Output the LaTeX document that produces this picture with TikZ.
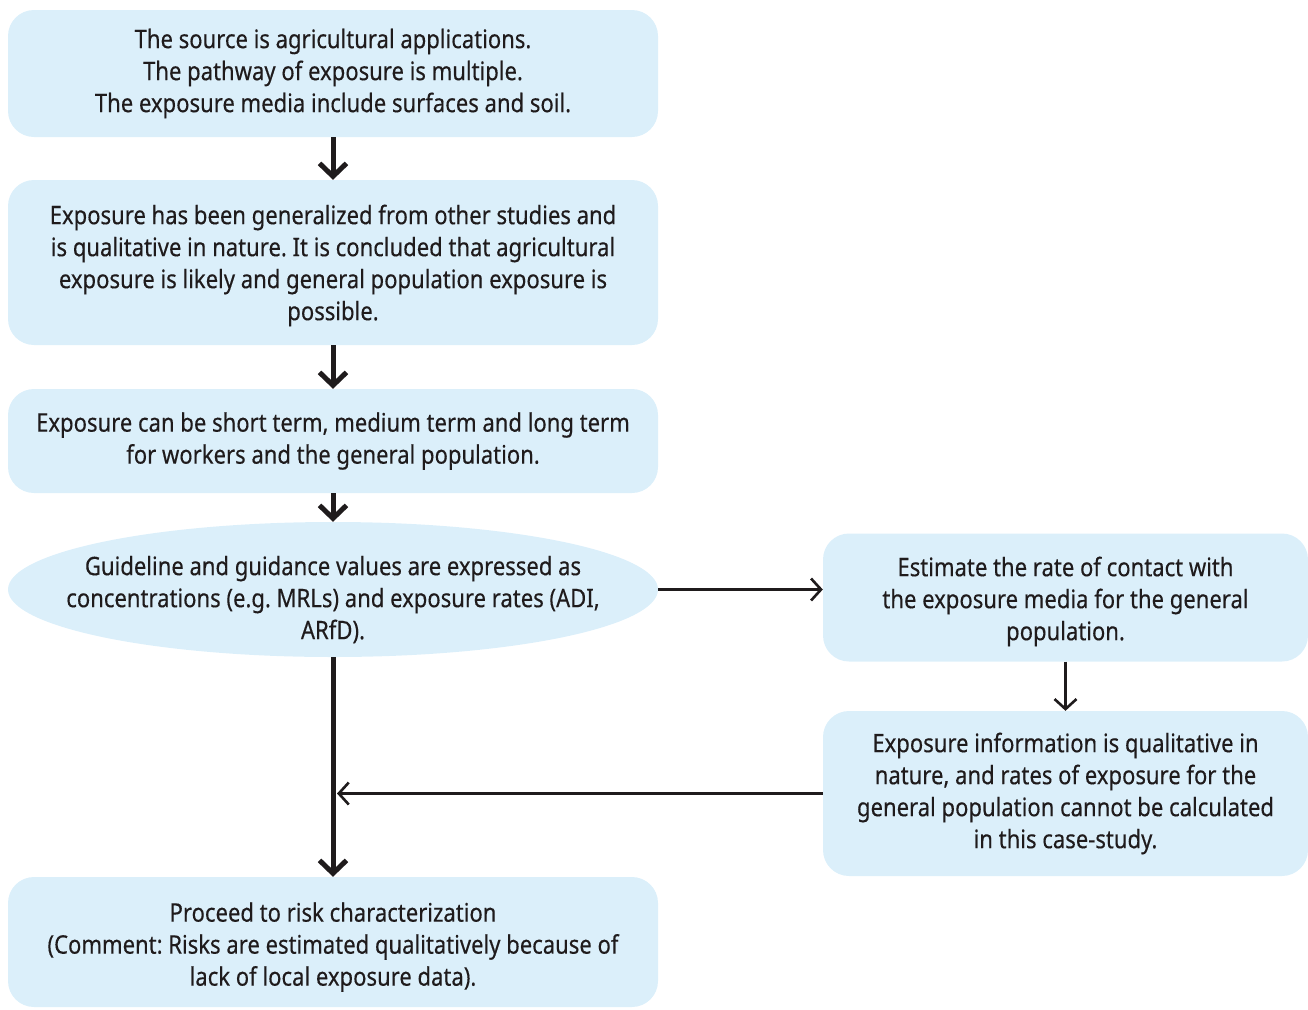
\documentclass[tikz,border=0pt]{standalone}
\usepackage{fontspec}
\setmainfont[FakeStretch=0.865,FakeBold=0.3]{Noto Sans}
\usetikzlibrary{arrows.meta,shapes.geometric}
\definecolor{boxfill}{HTML}{DBEFFA}
\definecolor{ink}{HTML}{1F1B1C}
\begin{document}
\frenchspacing
\begin{tikzpicture}[x=1pt,y=-1pt,
  font=\fontsize{25.5}{32}\selectfont,
  stepbox/.style={fill=boxfill,draw=none,rounded corners=26pt,align=center,
    text=ink,inner sep=0pt},
  wide/.style={stepbox,minimum width=650pt},
  narrow/.style={stepbox,minimum width=485pt},
  boxtext/.style={text=ink,align=center,inner sep=0pt},
  thick arrow/.style={draw=ink,line width=5pt,
    -{Straight Barb[length=13pt,width=27pt,line width=5pt]}},
  thin arrow/.style={draw=ink,line width=2.6pt,
    -{Straight Barb[length=10pt,width=22pt,line width=2.6pt]}}]
\useasboundingbox (0,0) rectangle (1308,1009);

\node[wide,minimum height=127pt] (src) at (333,73.5)
  {The source is agricultural applications.\\
   The pathway of exposure is multiple.\\
   The exposure media include surfaces and soil.};
\node[wide,minimum height=165pt] (gen) at (333,262.5) {};
\node[boxtext] (gentext) at ([yshift=-3pt]gen.center)
  {Exposure has been generalized from other studies and\\
   is qualitative in nature. It is concluded that agricultural\\
   exposure is likely and general population exposure is\\
   possible.};
\node[wide,minimum height=104pt] (term) at (333,441)
  {Exposure can be short term, medium term and long term\\
   for workers and the general population.};
% the ellipse is sized on its own; its text is set on top of it
\node[ellipse,fill=boxfill,draw=none,inner sep=0pt,
  minimum width=650pt,minimum height=135pt] (guide) at (333,589.5) {};
\node[boxtext] (guidetext) at ([yshift=-10pt]guide.center)
  {Guideline and guidance values are expressed as\\
   concentrations (e.g. MRLs) and exposure rates (ADI,\\
   ARfD).};
\node[narrow,minimum height=128pt] (rate) at (1065.5,597.5) {};
\node[boxtext] (ratetext) at ([yshift=-4pt]rate.center)
  {Estimate the rate of contact with\\
   the exposure media for the general\\
   population.};
\node[narrow,minimum height=165pt] (info) at (1065.5,793.5)
  {Exposure information is qualitative in\\
   nature, and rates of exposure for the\\
   general population cannot be calculated\\
   in this case-study.};
\node[wide,minimum height=130pt] (risk) at (333,942) {};
\node[boxtext] (risktext) at ([yshift=-5pt]risk.center)
  {Proceed to risk characterization\\
   (Comment: Risks are estimated qualitatively because of\\
   lack of local exposure data).};

\draw[thick arrow] (src) -- (gen);
\draw[thick arrow] (gen) -- (term);
\draw[thick arrow] (term) -- (guide);
\draw[thick arrow] (guide) -- (risk);
\draw[thin arrow] (guide.east) -- (rate.west |- guide.east);
\draw[thin arrow] (rate) -- (info);
\coordinate (join) at (guide.south |- info.west);
\draw[thin arrow] (info.west) -- ([xshift=4pt]join);
\end{tikzpicture}
\end{document}
